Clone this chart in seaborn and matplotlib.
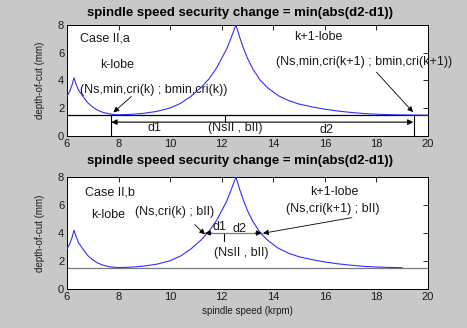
import numpy as np
import pandas as pd
import matplotlib
matplotlib.use("Agg")
import matplotlib.pyplot as plt
import seaborn as sns

# ---- data ----
speed = [6.0, 6.1, 6.2, 6.27, 6.35, 6.45, 6.6, 6.8, 7.0, 7.2, 7.4, 7.7, 8.0, 8.5,
         9.0, 9.5, 10.0, 10.4, 10.8, 11.2, 11.5, 11.8, 12.0, 12.2, 12.4, 12.55,
         12.7, 12.85, 13.0, 13.2, 13.5, 13.8, 14.2, 14.6, 15.0, 15.5, 16.0, 16.5,
         17.0, 17.5, 18.0, 18.5, 19.0, 19.5, 20.0]
depth = [2.85, 3.2, 3.7, 4.2, 3.75, 3.3, 2.9, 2.4, 2.08, 1.85, 1.7, 1.57, 1.53, 1.56,
         1.64, 1.78, 2.02, 2.35, 2.85, 3.5, 4.1, 4.9, 5.6, 6.3, 7.25, 8.0,
         7.1, 6.3, 5.6, 4.85, 4.0, 3.45, 2.9, 2.55, 2.3, 2.1, 1.93, 1.8,
         1.7, 1.62, 1.57, 1.54, 1.52, 1.51, 1.5]
bottom_curve_end = 19.0
b_limit = 1.5          # bII level
b_case_b = 4.0         # bII level, case b
x_ticks = [6, 8, 10, 12, 14, 16, 18, 20]
y_ticks = [0, 2, 4, 6, 8]
title = "spindle speed security change = min(abs(d2-d1))"

df = pd.DataFrame({"speed": speed, "depth": depth})
df_b = df[df["speed"] <= bottom_curve_end]

sns.set_style("white")
plt.rcParams["font.family"] = ["Liberation Sans", "DejaVu Sans"]

W, H = 467, 328
fig = plt.figure(figsize=(W / 100, H / 100), dpi=100)
fig.patch.set_facecolor("#c8c8c8")

def px_axes(x0, y0, x1, y1):
    return fig.add_axes([x0 / W, 1 - y1 / H, (x1 - x0) / W, (y1 - y0) / H])

ax1 = px_axes(67, 25, 428, 136)
ax2 = px_axes(67, 177, 428, 289)

TXT = "#1a1a1a"
CURVE = "#3030ff"

for ax in (ax1, ax2):
    ax.set_facecolor("white")
    ax.set_xlim(6, 20)
    ax.set_ylim(0, 8)
    ax.set_xticks(x_ticks)
    ax.set_yticks(y_ticks)
    ax.tick_params(direction="in", length=3.5, width=0.6, top=True, right=True,
                   labelsize=8, colors="k", labelcolor=TXT, pad=2)
    for s in ax.spines.values():
        s.set_visible(True)
        s.set_color("k")
        s.set_linewidth(0.7)

# ---- top panel ----
ax1.axhline(b_limit, color="k", lw=0.9, zorder=2)
sns.lineplot(data=df, x="speed", y="depth", ax=ax1, color=CURVE, lw=0.8,
             sort=False, estimator=None, zorder=3)
ax1.set_xlabel("")
ax1.set_ylabel("depth-of-cut (mm)", fontsize=7, color=TXT, labelpad=9)

ax1.plot([7.7, 7.7], [0, b_limit], color="k", lw=0.8)
ax1.plot([19.45, 19.45], [0, b_limit], color="k", lw=0.8)
ax1.plot([12.12, 12.12], [1.0, b_limit], color="k", lw=0.8)
ax1.annotate("", xy=(7.72, 1.0), xytext=(19.43, 1.0),
             arrowprops=dict(arrowstyle="<|-|>", color="k", lw=0.8,
                             mutation_scale=8, shrinkA=0, shrinkB=0))
ax1.text(6.5, 7.05, "Case II,a", fontsize=9, color=TXT, va="center")
ax1.text(7.3, 5.1, "k-lobe", fontsize=9, color=TXT, va="center")
ax1.text(6.5, 3.3, "(Ns,min,cri(k) ; bmin,cri(k))", fontsize=9, color=TXT, va="center")
ax1.annotate("", xy=(7.8, 1.7), xytext=(8.5, 2.85),
             arrowprops=dict(arrowstyle="-|>", color="k", lw=0.6,
                             mutation_scale=8, shrinkA=0, shrinkB=0))
ax1.text(9.4, 0.55, "d1", fontsize=9, color=TXT, ha="center", va="center")
ax1.text(11.45, 0.55, "(NsII , bII)", fontsize=9, color=TXT, va="center")
ax1.text(16.05, 0.45, "d2", fontsize=9, color=TXT, ha="center", va="center")
ax1.text(15.75, 7.15, "k+1-lobe", fontsize=9, color=TXT, ha="center", va="center")
ax1.text(14.1, 5.35, "(Ns,min,cri(k+1) ; bmin,cri(k+1))", fontsize=9, color=TXT,
         va="center", clip_on=False)
ax1.annotate("", xy=(19.42, 1.72), xytext=(18.0, 4.6),
             arrowprops=dict(arrowstyle="-|>", color="k", lw=0.6,
                             mutation_scale=8, shrinkA=0, shrinkB=0))

# ---- bottom panel ----
ax2.axhline(b_limit, color="#7a7a7a", lw=0.9, zorder=2)
sns.lineplot(data=df_b, x="speed", y="depth", ax=ax2, color=CURVE, lw=0.8,
             sort=False, estimator=None, zorder=3)
ax2.set_xlabel("spindle speed (krpm)", fontsize=7, color=TXT, labelpad=3)
ax2.set_ylabel("depth-of-cut (mm)", fontsize=7, color=TXT, labelpad=9)

ax2.plot([11.35, 13.55], [b_case_b, b_case_b], color="#7a7a7a", lw=0.9, zorder=4)
ax2.annotate("", xy=(11.35, b_case_b), xytext=(11.6, b_case_b),
             arrowprops=dict(arrowstyle="-|>", color="k", lw=0.6,
                             mutation_scale=8, shrinkA=0, shrinkB=0), zorder=5)
ax2.annotate("", xy=(13.55, b_case_b), xytext=(13.3, b_case_b),
             arrowprops=dict(arrowstyle="-|>", color="k", lw=0.6,
                             mutation_scale=8, shrinkA=0, shrinkB=0), zorder=5)
ax2.plot([12.08, 12.08], [3.4, b_case_b], color="k", lw=0.8)
ax2.text(6.7, 6.86, "Case II,b", fontsize=9, color=TXT, va="center")
ax2.text(6.95, 5.3, "k-lobe", fontsize=9, color=TXT, va="center")
ax2.text(8.63, 5.5, "(Ns,cri(k) ; bII)", fontsize=9, color=TXT, va="center")
ax2.annotate("", xy=(11.35, 3.9), xytext=(10.95, 4.6),
             arrowprops=dict(arrowstyle="-|>", color="k", lw=0.6,
                             mutation_scale=8, shrinkA=0, shrinkB=0))
ax2.text(11.9, 4.45, "d1", fontsize=9, color=TXT, ha="center", va="center")
ax2.text(12.7, 4.3, "d2", fontsize=9, color=TXT, ha="center", va="center")
ax2.text(12.75, 2.6, "(NsII , bII)", fontsize=9, color=TXT, ha="center", va="center")
ax2.text(16.35, 6.95, "k+1-lobe", fontsize=9, color=TXT, ha="center", va="center")
ax2.text(16.3, 5.7, "(Ns,cri(k+1) ; bII)", fontsize=9, color=TXT, ha="center", va="center")
ax2.annotate("", xy=(13.6, 3.98), xytext=(17.05, 5.1),
             arrowprops=dict(arrowstyle="-|>", color="k", lw=0.6,
                             mutation_scale=8, shrinkA=0, shrinkB=0))

# titles
fig.text(240 / W, 1 - 13 / H, title, fontsize=9.5, fontweight="bold",
         ha="center", va="center", color="k")
fig.text(240 / W, 1 - 161 / H, title, fontsize=9.5, fontweight="bold",
         ha="center", va="center", color="k")

fig.savefig("out.png", dpi=100, facecolor=fig.get_facecolor())
